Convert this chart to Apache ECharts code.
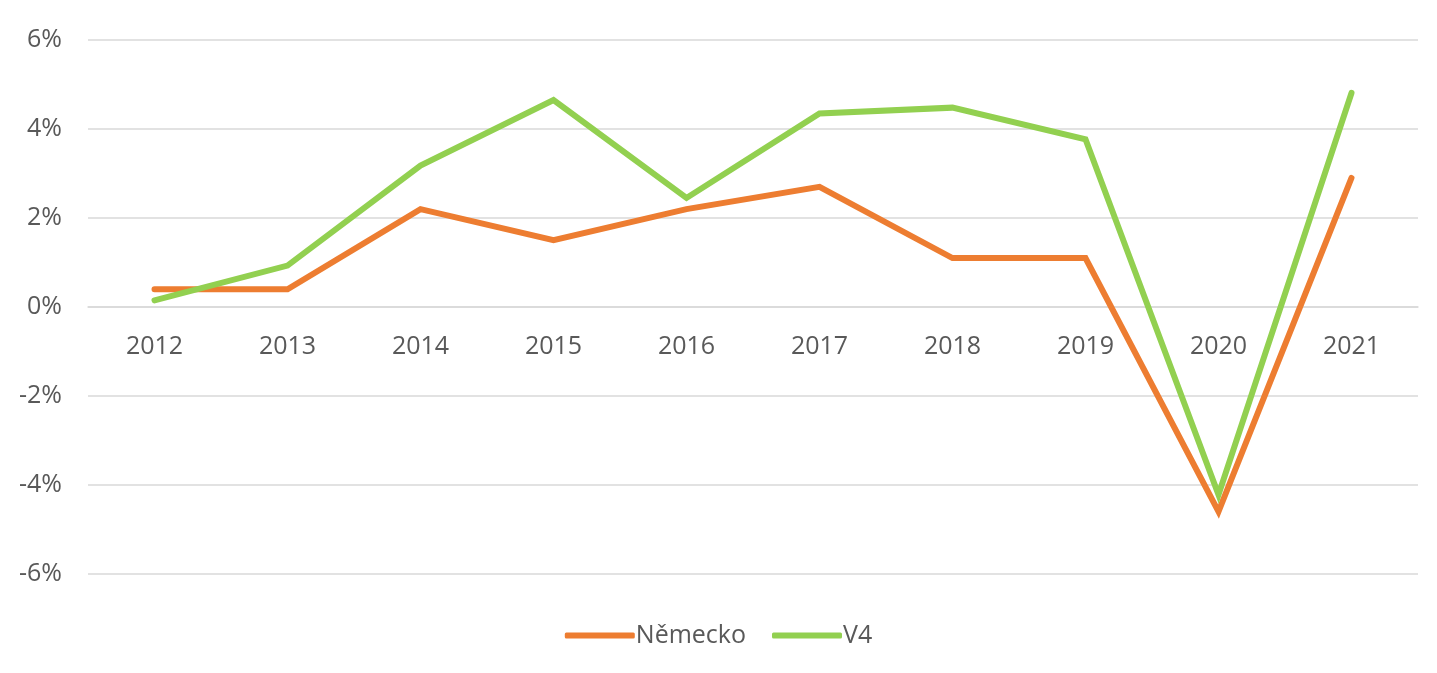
<!DOCTYPE html>
<html>
<head>
<meta charset="utf-8">
<script src="https://cdn.jsdelivr.net/npm/echarts@6/dist/echarts.min.js"></script>
<style>
html,body{margin:0;padding:0;background:#fff;}
#chart{width:1437px;height:673px;}
</style>
</head>
<body>
<div id="chart"></div>
<script>
// roky
var years = ['2012','2013','2014','2015','2016','2017','2018','2019','2020','2021'];
// rust HDP v %
var nemecko = [0.4, 0.4, 2.2, 1.5, 2.2, 2.7, 1.1, 1.1, -4.6, 2.9];
var v4 = [0.15, 0.93, 3.18, 4.65, 2.45, 4.35, 4.48, 3.77, -4.22, 4.81];
var yTicks = {min: -6, max: 6, step: 2};

var txt = '#595959';
var gridCol = '#d9d9d9';
var H = 673, gTop = 40, gBottom = 99;
// osa x lezi na nule -> posun nahoru
var plotH = H - gTop - gBottom;
var xOffset = -plotH * (0 - yTicks.min) / (yTicks.max - yTicks.min);

function mkLine(name, data, color){
	return {
		name: name,
		type: 'line',
		data: data,
		symbol: 'none',
		smooth: false,
		lineStyle: {color: color, width: 6, cap: 'round', join: 'miter'},
		itemStyle: {color: color}
	};
}

var chart = echarts.init(document.getElementById('chart'));
chart.setOption({
	animation: false,
	textStyle: {fontFamily: '"Open Sans", sans-serif'},
	grid: {left: 88, right: 19, top: gTop, bottom: gBottom},
	legend: {
		bottom: 20,
		left: 'center',
		itemWidth: 70,
		itemHeight: 6,
		itemGap: 26,
		icon: 'roundRect',
		textStyle: {color: txt, fontSize: 25, fontFamily: '"Open Sans", sans-serif', padding: [0,0,0,-4]},
		data: ['Německo','V4']
	},
	xAxis: {
		type: 'category',
		data: years,
		boundaryGap: true,
		offset: xOffset,
		axisLine: {onZero: false, lineStyle: {color: gridCol, width: 1.5}},
		axisTick: {show: false},
		axisLabel: {color: txt, fontSize: 25, margin: 27}
	},
	yAxis: {
		type: 'value',
		min: yTicks.min,
		max: yTicks.max,
		interval: yTicks.step,
		axisLine: {show: false},
		axisTick: {show: false},
		splitLine: {lineStyle: {color: gridCol, width: 1.5}},
		axisLabel: {color: txt, fontSize: 25, margin: 26, formatter: function(v){return v + '%';}}
	},
	series: [
		mkLine('Německo', nemecko, '#ED7D31'),
		mkLine('V4', v4, '#92D050')
	]
});
</script>
</body>
</html>
